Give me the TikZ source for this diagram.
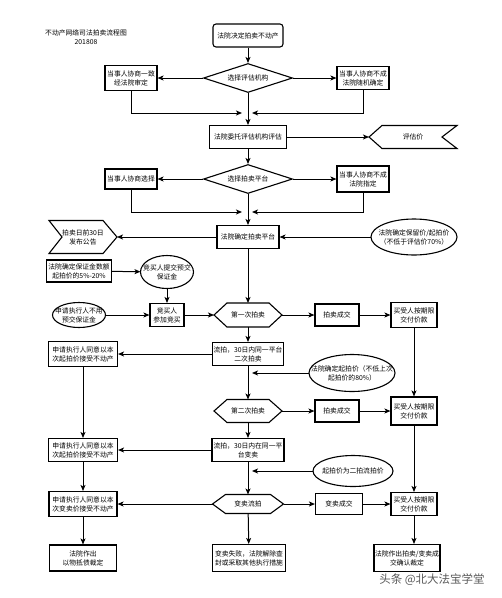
\documentclass[tikz,border=0pt]{standalone}
\usepackage{fontspec}
\newfontfamily\cjk{Noto Sans CJK SC}
\usetikzlibrary{arrows.meta,calc,shapes.geometric}

\begin{document}
\begin{tikzpicture}[x=1pt, y=-1pt,
  font=\cjk\fontsize{6.8}{9}\selectfont,
  >={Stealth[length=6pt,width=5pt,inset=1.5pt]},
  line width=1pt,
  box/.style={draw, line width=1.1pt, align=center, inner sep=0pt, minimum height=23},
  rbox/.style={box, rounded corners=3pt},
  dec/.style={draw, diamond, line width=1.1pt, aspect=3, inner sep=0pt,
              minimum width=89, minimum height=29},
  shp/.style={align=center, inner sep=0pt},
  wmark/.style={text=black!65, font=\cjk\fontsize{11.5}{13}\selectfont}]
\useasboundingbox (0,0) rectangle (502,598);
\node[shp] (title) at (86,37) {不动产网络司法拍卖流程图\\201808};
\node[rbox, minimum width=70] (start) at (248,35.5) {法院决定拍卖不动产};
\node[dec] (d1) at (248,78) {选择评估机构};
\node[box, minimum width=52, minimum height=25] (l1) at (131,78) {当事人协商一致\\经法院审定};
\node[box, minimum width=52] (r1) at (363,78) {当事人协商不成\\法院随机确定};
\node[box, minimum width=77] (eval) at (248,137) {法院委托评估机构评估};
\node[shp, minimum width=87, minimum height=22] (price) at (413,137) {评估价};
\node[dec] (d2) at (248,179) {选择拍卖平台};
\node[box, minimum width=52, minimum height=20] (l2) at (131,179) {当事人协商选择};
\node[box, minimum width=52, minimum height=26] (r2) at (363,179) {当事人协商不成\\法院指定};
\node[box, minimum width=62] (plat) at (248,237) {法院确定拍卖平台};
\node[shp, minimum width=67, minimum height=32] (notice) at (83,237) {拍卖日前30日\\发布公告};
\node[shp, minimum width=85, minimum height=35] (reserve) at (414,237) {法院确定保留价/起拍价\\（不低于评估价70\%）};
\node[box, minimum width=65, minimum height=22] (dep) at (79,271) {法院确定保证金数额\\起拍价的5\%-20\%};
\node[shp, minimum width=52, minimum height=32] (bdep) at (167,272) {竞买人提交预交\\保证金};
\node[box, minimum width=34] (bid) at (167,315) {竞买人\\参加竞买};
\node[shp, minimum width=52, minimum height=24] (nodep) at (79,315) {申请执行人不用\\预交保证金};
\node[shp, minimum width=67, minimum height=23] (a1) at (248,315) {第一次拍卖};
\node[box, minimum width=44, minimum height=22] (ok1) at (337,315) {拍卖成交};
\node[box, minimum width=46, minimum height=25] (pay1) at (414,315) {买受人按期限\\交付价款};
\node[box, minimum width=71, minimum height=23] (fail1) at (248,354) {流拍，30日内同一平台\\二次拍卖};
\node[box, minimum width=69, minimum height=25] (acc1) at (83,354) {申请执行人同意以本\\次起拍价接受不动产};
\node[shp, minimum width=85, minimum height=36] (start2) at (352,373) {法院确定起拍价（不低上次\\起拍价的80\%）};
\node[shp, minimum width=67, minimum height=22] (a2) at (248,411) {第二次拍卖};
\node[box, minimum width=44, minimum height=22] (ok2) at (337,411) {拍卖成交};
\node[box, minimum width=46, minimum height=28] (pay2) at (414,411) {买受人按期限\\交付价款};
\node[box, minimum width=72, minimum height=23] (fail2) at (248,450) {流拍，30日内在同一平\\台变卖};
\node[box, minimum width=69, minimum height=23] (acc2) at (83,450) {申请执行人同意以本\\次起拍价接受不动产};
\node[shp, minimum width=79, minimum height=30] (start3) at (353,471) {起拍价为二拍流拍价};
\node[shp, minimum width=70, minimum height=18] (sale) at (248,504) {变卖流拍};
\node[box, minimum width=68, minimum height=25] (acc3) at (83,504) {申请执行人同意以本\\次变卖价接受不动产};
\node[box, minimum width=47, minimum height=21] (ok3) at (339,504) {变卖成交};
\node[box, minimum width=46, minimum height=23] (pay3) at (414,504) {买受人按期限\\交付价款};
\node[box, minimum width=67, minimum height=26] (end1) at (83,558) {法院作出\\以物抵债裁定};
\node[box, minimum width=73, minimum height=27] (end2) at (249,558) {变卖失败，法院解除查\\封或采取其他执行措施};
\node[box, minimum width=66, minimum height=27] (end3) at (407,558) {法院作出拍卖/变卖成\\交确认裁定};
\node[wmark] (wm) at (432,580) {头条 @北大法宝学堂};
\foreach \nd in {reserve,bdep,nodep,start2,start3}
  \draw[line width=1.1pt] let \p1=($(\nd.north east)-(\nd.center)$) in
    (\nd.center) ellipse [x radius=\x1, y radius=\y1];
\foreach \nd in {a1,a2,sale}
  \draw[line width=1.1pt] (\nd.west) -- ([xshift=13]\nd.north west) -- ([xshift=-13]\nd.north east)
    -- (\nd.east) -- ([xshift=-13]\nd.south east) -- ([xshift=13]\nd.south west) -- cycle;
\draw[line width=1.1pt] (price.west) -- ([xshift=13]price.north west) -- (price.north east)
  -- ([xshift=-15]price.east) -- (price.south east) -- ([xshift=13]price.south west) -- cycle;
\draw[line width=1.1pt] (notice.east) -- ([xshift=-14]notice.north east) -- (notice.north west)
  -- ([xshift=13]notice.west) -- (notice.south west) -- ([xshift=-14]notice.south east) -- cycle;
\coordinate (j1) at (248,113);
\coordinate (j2) at (248,212);
\draw[->] (start) -- (d1);
\draw[->] (d1) -- (l1);
\draw[->] (d1) -- (r1);
\draw[->] (l1.south) |- ([xshift=-6]j1);
\draw[->] (r1.south) |- ([xshift=4]j1);
\draw[->] (d1) -- (eval);
\draw[->] (eval) -- (price);
\draw[->] (eval) -- (d2);
\draw[->] (d2) -- (l2);
\draw[->] (d2) -- (r2);
\draw[->] (l2.south) |- ([xshift=-6]j2);
\draw[->] (r2.south) |- ([xshift=4]j2);
\draw[->] (d2) -- (plat);
\draw[->] (plat) -- (notice);
\draw[->] (reserve) -- (plat);
\draw[->] (dep) -- (bdep);
\draw[->] (bdep) -- (bid);
\draw[->] (nodep) -- (bid);
\draw[->] (bid) -- (a1);
\draw[->] (plat) -- (a1);
\draw[->] (a1) -- (ok1);
\draw[->] (ok1) -- (pay1);
\draw[->] (a1) -- (fail1);
\draw[->] (fail1) -- (acc1);
\draw[->] (pay1) -- (pay2);
\draw[->] (start2.west) -- ([xshift=4]start2.west -| fail1.south);
\draw[->] (fail1) -- (a2);
\draw[->] (a2) -- (ok2);
\draw[->] (ok2) -- (pay2);
\draw[->] (a2) -- (fail2);
\draw[->] (fail2) -- (acc2);
\draw[->] (acc1) -- (acc2);
\draw[->] (start3.west) -- ([xshift=4]start3.west -| fail2.south);
\draw[->] (fail2) -- (sale);
\draw[->] (sale) -- (acc3);
\draw[->] (sale) -- (ok3);
\draw[->] (ok3) -- (pay3);
\draw[->] (sale) -- (end2);
\draw[->] (acc2) -- (acc3);
\draw[->] (acc3) -- (end1);
\draw[->] (pay2) -- (pay3);
\draw[->] (pay3.south) -- (pay3.south |- end3.north);
\end{tikzpicture}
\end{document}
